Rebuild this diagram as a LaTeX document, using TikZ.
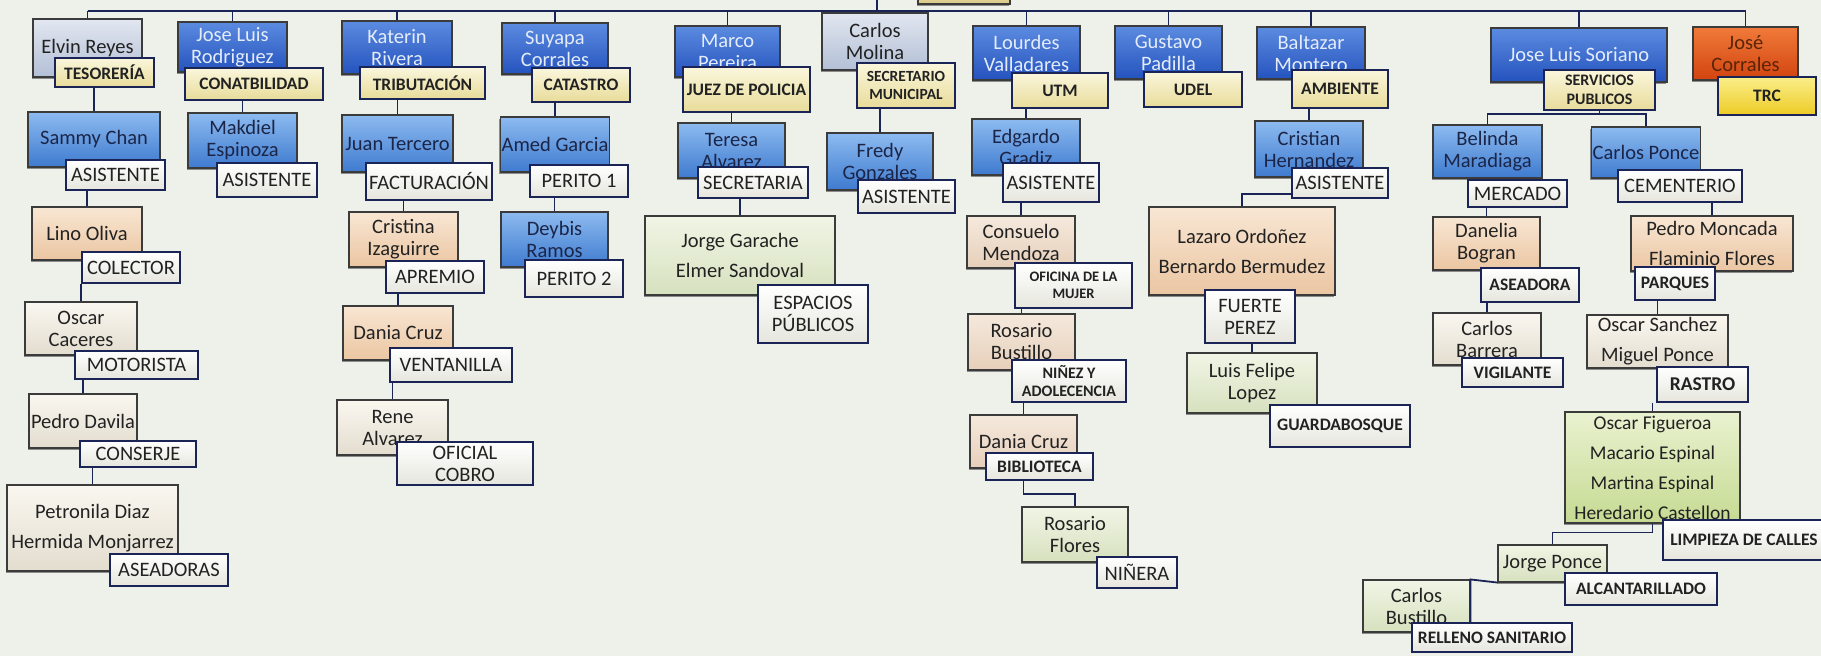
\documentclass[tikz,border=0pt]{standalone}
\usepackage{fontspec}
\setmainfont{Carlito}
\usetikzlibrary{calc,shadows}
\definecolor{bg}{HTML}{EEF0EA}
\definecolor{navy}{HTML}{1A2456}
\definecolor{boxb}{HTML}{3B3B3B}
\definecolor{txtd}{HTML}{222222}
\definecolor{dkbT}{HTML}{5B8BE0}\definecolor{dkbB}{HTML}{2553BE}\definecolor{dkbX}{HTML}{E4ECFA}
\definecolor{mdbT}{HTML}{8DBBF0}\definecolor{mdbB}{HTML}{3E7ACF}\definecolor{mdbX}{HTML}{1B2547}
\definecolor{lgbT}{HTML}{E2E7F0}\definecolor{lgbB}{HTML}{B3BFD6}
\definecolor{pchT}{HTML}{F8E6D3}\definecolor{pchB}{HTML}{EBC6A2}
\definecolor{plT}{HTML}{F5E9DD}\definecolor{plB}{HTML}{E6CFBA}
\definecolor{crmT}{HTML}{FAF7F0}\definecolor{crmB}{HTML}{E3DDCF}
\definecolor{grnT}{HTML}{F1F5E6}\definecolor{grnB}{HTML}{D6E1BE}
\definecolor{bgrT}{HTML}{E9F2D0}\definecolor{bgrB}{HTML}{C6DA92}
\definecolor{orgT}{HTML}{F07A3A}\definecolor{orgB}{HTML}{D2440F}\definecolor{orgX}{HTML}{5A2408}
\definecolor{ylT}{HTML}{FAF6DC}\definecolor{ylB}{HTML}{E8DC9A}
\definecolor{whT}{HTML}{FFFFFF}\definecolor{whB}{HTML}{E6E6DE}
\definecolor{trcT}{HTML}{FAEE8A}\definecolor{trcB}{HTML}{EDCB25}
\definecolor{rootT}{HTML}{F0E7C0}\definecolor{rootB}{HTML}{DCCB8A}
\newcommand{\nmfont}{\fontsize{20.5}{22}\selectfont}
\newcommand{\bfnt}{\fontsize{17.5}{19.5}\selectfont\bfseries}
\newcommand{\sfnt}{\fontsize{14.5}{16.5}\selectfont\bfseries}
\newcommand{\obox}[7]{%
  \pgfmathsetmacro\bxcx{(#2+#4)/2}%
  \pgfmathsetmacro\bxcy{(#3+#5)/2}%
  \pgfmathsetmacro\bxw{#4-#2}%
  \pgfmathsetmacro\bxh{#5-#3}%
  \node[#6, minimum width=\bxw pt, minimum height=\bxh pt] (#1) at (\bxcx,\bxcy) {#7};%
}
\begin{document}
\begin{tikzpicture}[x=1pt,y=-1pt,
  conn/.style={draw=navy, line width=1.8pt},
  nb/.style={rectangle, inner sep=1pt, align=center, draw=boxb, line width=1.1pt, font=\nmfont, text=txtd,
    general shadow={fill=black!45, shadow xshift=-1.5pt, shadow yshift=-1.5pt}},
  dkb/.style={nb, top color=dkbT, bottom color=dkbB, text=dkbX},
  mdb/.style={nb, top color=mdbT, bottom color=mdbB, text=mdbX},
  lgb/.style={nb, top color=lgbT, bottom color=lgbB},
  pch/.style={nb, top color=pchT, bottom color=pchB},
  pl/.style={nb, top color=plT, bottom color=plB},
  crm/.style={nb, top color=crmT, bottom color=crmB},
  grn/.style={nb, top color=grnT, bottom color=grnB},
  bgr/.style={nb, top color=bgrT, bottom color=bgrB, font=\fontsize{19.5}{21}\selectfont},
  org/.style={nb, top color=orgT, bottom color=orgB, text=orgX},
  rootbox/.style={nb, top color=rootT, bottom color=rootB},
  lb/.style={rectangle, inner sep=1pt, align=center, draw=navy, line width=1.6pt, font=\nmfont, text=txtd},
  yl/.style={lb, top color=ylT, bottom color=ylB, font=\bfnt},
  trcl/.style={lb, top color=trcT, bottom color=trcB, font=\bfnt},
  wl/.style={lb, top color=whT, bottom color=whB},
  wlb/.style={wl, font=\bfnt},
  wls/.style={wl, font=\sfnt},
]
\fill[bg] (0,0) rectangle (1821,656);
\useasboundingbox (0,0) rectangle (1821,656);

% root (cut off at the top)
\obox{root}{918}{-40}{1010}{4}{rootbox}{}

% column 1
\obox{elvin}{33}{19}{142}{77}{lgb}{Elvin Reyes}
\obox{tes}{55}{58}{154}{87}{yl}{TESORERÍA}
\obox{sammy}{28}{112}{160}{167}{mdb}{Sammy Chan}
\obox{asi1}{66}{160}{165}{190}{wl}{ASISTENTE}
\obox{lino}{32}{207}{142}{260}{pch}{Lino Oliva}
\obox{colec}{82}{252}{180}{283}{wl}{COLECTOR}
\obox{oscarc}{25}{302}{137}{355}{crm}{Oscar\\Caceres}
\obox{moto}{75}{351}{198}{379}{wl}{MOTORISTA}
\obox{pedro}{29}{394}{137}{448}{crm}{Pedro Davila}
\obox{conse}{80}{441}{196}{467}{wl}{CONSERJE}
\obox{petro}{7}{485}{178}{571}{crm}{Petronila Diaz\\[8pt]Hermida Monjarrez}
\obox{aseas}{110}{554}{228}{586}{wl}{ASEADORAS}

% column 2
\obox{jlr}{178}{22}{287}{72}{dkb}{Jose Luis\\Rodriguez}
\obox{cont}{185}{68}{323}{100}{yl}{CONATBILIDAD}
\obox{mak}{188}{113}{297}{168}{mdb}{Makdiel\\Espinoza}
\obox{asi2}{217}{163}{317}{197}{wl}{ASISTENTE}

% column 3
\obox{kat}{342}{21}{452}{74}{dkb}{Katerin\\Rivera}
\obox{trib}{360}{67}{485}{99}{yl}{TRIBUTACIÓN}
\obox{juan}{342}{115}{453}{172}{mdb}{Juan Tercero}
\obox{fact}{366}{163}{492}{200}{wl}{FACTURACIÓN}
\obox{cris}{349}{212}{458}{267}{pch}{Cristina\\Izaguirre}
\obox{apre}{386}{261}{484}{293}{wl}{APREMIO}
\obox{dania}{343}{306}{453}{360}{pch}{Dania Cruz}
\obox{vent}{390}{348}{512}{382}{wl}{VENTANILLA}
\obox{rene}{337}{400}{448}{455}{crm}{Rene\\Alvarez}
\obox{ofic}{397}{442}{533}{485}{wl}{OFICIAL\\COBRO}

% column 4
\obox{suy}{502}{23}{608}{74}{dkb}{Suyapa\\Corrales}
\obox{cat}{532}{68}{630}{102}{yl}{CATASTRO}
\obox{amed}{502}{117}{608}{172}{mdb}{Amed Garcia}
\obox{peri1}{530}{165}{628}{197}{wl}{PERITO 1}
\obox{deyb}{501}{212}{608}{267}{mdb}{Deybis\\Ramos}
\obox{peri2}{525}{260}{623}{297}{wl}{PERITO 2}

% column 5
\obox{marco}{675}{26}{780}{77}{dkb}{Marco\\Pereira}
\obox{juez}{683}{67}{810}{112}{yl}{JUEZ DE POLICIA}
\obox{teresa}{678}{123}{785}{178}{mdb}{Teresa\\Alvarez}
\obox{secr}{698}{167}{808}{198}{wl}{SECRETARIA}
\obox{jorge}{645}{216}{835}{295}{grn}{Jorge Garache\\[8pt]Elmer Sandoval}
\obox{espa}{758}{285}{868}{343}{wl}{ESPACIOS\\PÚBLICOS}

% column 6
\obox{molina}{822}{13}{928}{70}{lgb}{Carlos\\Molina}
\obox{secm}{857}{63}{955}{108}{yl,font=\fontsize{15.5}{18}\selectfont\bfseries}{SECRETARIO\\MUNICIPAL}
\obox{fredy}{827}{133}{933}{190}{mdb}{Fredy\\Gonzales}
\obox{asi3}{858}{180}{955}{213}{wl}{ASISTENTE}

% column 7
\obox{lour}{973}{26}{1080}{80}{dkb}{Lourdes\\Valladares}
\obox{utm}{1012}{73}{1108}{108}{yl}{UTM}
\obox{edg}{972}{119}{1080}{175}{mdb}{Edgardo\\Gradiz}
\obox{asi4}{1003}{163}{1099}{202}{wl}{ASISTENTE}
\obox{consu}{967}{216}{1075}{268}{pl}{Consuelo\\Mendoza}
\obox{ofmu}{1015}{263}{1132}{308}{wls}{OFICINA DE LA\\MUJER}
\obox{rosb}{968}{314}{1075}{370}{pl}{Rosario\\Bustillo}
\obox{nine}{1012}{360}{1126}{402}{wls,font=\fontsize{16}{18.5}\selectfont\bfseries}{NIÑEZ Y\\ADOLECENCIA}
\obox{dan2}{970}{415}{1077}{468}{pl}{Dania Cruz}
\obox{bib}{986}{453}{1093}{480}{wlb}{BIBLIOTECA}
\obox{rosf}{1022}{507}{1128}{562}{grn}{Rosario\\Flores}
\obox{ninera}{1097}{557}{1177}{588}{wl}{NIÑERA}

% column 8
\obox{gus}{1115}{26}{1222}{79}{dkb}{Gustavo\\Padilla}
\obox{udel}{1144}{72}{1242}{107}{yl}{UDEL}

% column 9
\obox{balt}{1257}{27}{1365}{79}{dkb}{Baltazar\\Montero}
\obox{amb}{1292}{70}{1388}{108}{yl}{AMBIENTE}
\obox{cris2}{1255}{121}{1363}{177}{mdb}{Cristian\\Hernandez}
\obox{asi5}{1292}{168}{1388}{198}{wl}{ASISTENTE}
\obox{laz}{1149}{207}{1335}{295}{pch}{Lazaro Ordoñez\\[8pt]Bernardo Bermudez}
\obox{fue}{1205}{290}{1295}{343}{wl}{FUERTE\\PEREZ}
\obox{luis}{1187}{353}{1317}{413}{grn}{Luis Felipe\\Lopez}
\obox{guar}{1270}{405}{1410}{447}{wlb}{GUARDABOSQUE}

% column 10
\obox{jls}{1491}{28}{1667}{82}{dkb}{Jose Luis Soriano}
\obox{serv}{1544}{70}{1655}{110}{yl,font=\fontsize{16}{19}\selectfont\bfseries}{SERVICIOS\\PUBLICOS}
\obox{bel}{1433}{125}{1542}{178}{mdb}{Belinda\\Maradiaga}
\obox{merc}{1468}{180}{1567}{207}{wl}{MERCADO}
\obox{cpon}{1592}{127}{1700}{178}{mdb}{Carlos Ponce}
\obox{cem}{1618}{170}{1742}{202}{wl}{CEMENTERIO}
\obox{danel}{1433}{217}{1540}{270}{pch}{Danelia\\Bogran}
\obox{aseo}{1481}{268}{1579}{302}{wlb}{ASEADORA}
\obox{cbar}{1433}{313}{1541}{365}{crm}{Carlos\\Barrera}
\obox{vig}{1462}{358}{1563}{387}{wlb}{VIGILANTE}
\obox{pmon}{1631}{216}{1793}{271}{pch}{Pedro Moncada\\[8pt]Flaminio Flores}
\obox{parq}{1635}{267}{1715}{300}{wlb}{PARQUES}
\obox{osan}{1587}{315}{1728}{368}{crm}{Oscar Sanchez\\[8pt]Miguel Ponce}
\obox{rast}{1657}{367}{1748}{402}{wl,font=\fontsize{19.5}{21}\selectfont\bfseries}{RASTRO}
\obox{ofig}{1565}{412}{1740}{523}{bgr}{Oscar Figueroa\\[9pt]Macario Espinal\\[9pt]Martina Espinal\\[9pt]Heredario Castellon}
\obox{limp}{1663}{520}{1825}{560}{wlb}{LIMPIEZA DE CALLES}
\obox{jpon}{1498}{545}{1607}{582}{grn}{Jorge Ponce}
\obox{alc}{1565}{573}{1717}{605}{wlb}{ALCANTARILLADO}
\obox{cbus}{1363}{580}{1470}{632}{grn}{Carlos\\Bustillo}
\obox{rell}{1412}{623}{1572}{652}{wlb}{RELLENO SANITARIO}

% column 11
\obox{jcor}{1693}{27}{1798}{80}{org}{José\\Corrales}
\obox{trc}{1718}{77}{1816}{115}{trcl}{TRC}

% top connectors
\coordinate (hl) at (0,11);
\draw[conn] (elvin.north |- hl) -- (jcor.north |- hl);
\foreach \n in {elvin,jlr,kat,suy,marco,lour,gus,balt,jls,jcor}
  \draw[conn] (\n.north |- hl) -- (\n.north);
\coordinate (mtop) at (877,-2);
\draw[conn] (mtop) -- (mtop |- molina.north);
\draw[conn] ($(root.south west)+(9,0)$) -- ($(root.south west)+(9,0)$ |- hl);

% column connectors
\foreach \a/\b in {tes/sammy,asi1/lino,colec/oscarc,moto/pedro,conse/petro,
  cont/mak,trib/juan,fact/cris,apre/dania,vent/rene,
  cat/amed,peri1/deyb,juez/teresa,secr/jorge,secm/fredy,
  utm/edg,asi4/consu,ofmu/rosb,nine/dan2,amb/cris2,fue/luis,
  merc/danel,cem/pmon,aseo/cbar,parq/osan,rast/ofig}
  \draw[conn] (\b.north |- \a.south) -- (\b.north);
\draw[conn] (dan2.south |- bib.south) -- ++(0,13) -| (rosf.north);
\draw[conn] ($(asi5.south west)+(0,-5)$) -| (laz.north);
\coordinate (sj) at ($(serv.south)+(0,3)$);
\draw[conn] (serv.south) -- (sj);
\draw[conn] (bel.north) |- (sj) -| (cpon.north);
\draw[conn] (ofig.south) -- ++(0,9) -| (jpon.north);
\draw[conn] (jpon.south west) -- (cbus.north east) -- (cbus.east |- rell.north);
\end{tikzpicture}
\end{document}
